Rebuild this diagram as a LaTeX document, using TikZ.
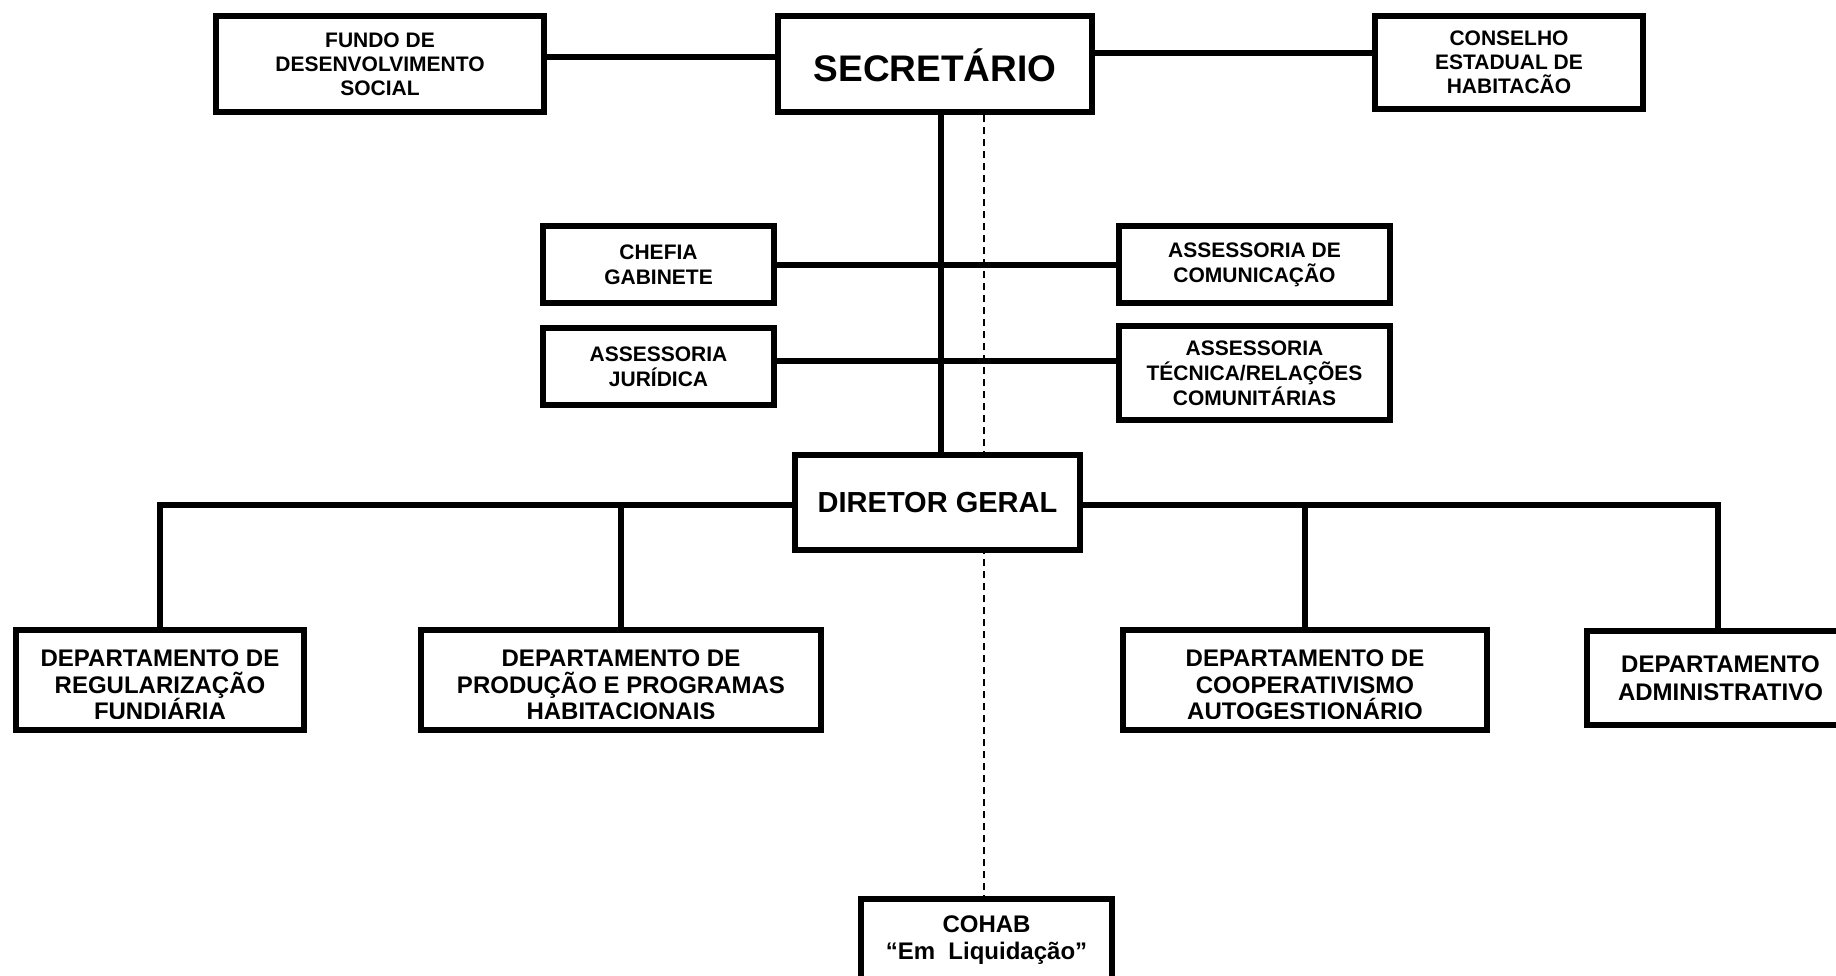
\documentclass[tikz,border=0pt]{standalone}
\usepackage{fontspec}
\setmainfont{Liberation Sans}
\lineskiplimit=-100pt
\pgfdeclarelayer{paper}
\pgfdeclarelayer{bg}
\pgfsetlayers{paper,bg,main}
\begin{document}
\begin{tikzpicture}[x=1pt,y=-1pt,
  box/.style={draw, line width=6pt, fill=white, inner sep=0pt, align=center},
  ln/.style={line width=6pt},
  dl/.style={line width=1.6pt, dash pattern=on 7pt off 5pt},
  small/.style={font=\fontsize{21}{24}\selectfont\bfseries},
  mid/.style={font=\fontsize{21}{25}\selectfont\bfseries},
  dept/.style={font=\fontsize{24}{26.5}\selectfont\bfseries, align=center, inner sep=0pt},
  depttwo/.style={font=\fontsize{24}{28}\selectfont\bfseries},
]
\useasboundingbox (0,0) rectangle (1836,975);
\begin{pgfonlayer}{paper}
  \fill[white] (0,0) rectangle (1836,975);
\end{pgfonlayer}
\clip (0,0) rectangle (1836,975);

% top row
\node[box, minimum width=328pt, minimum height=96pt, small] (fundo) at (380,64) {FUNDO DE\\DESENVOLVIMENTO\\SOCIAL};
\node[box, minimum width=314pt, minimum height=96pt, font=\fontsize{37}{40}\selectfont\bfseries, text height=34.5pt, text depth=0pt] (sec) at (935,64) {SECRETÁRIO};
\node[box, minimum width=268pt, minimum height=93pt, small] (cons) at (1509,62.5) {CONSELHO\\ESTADUAL DE\\HABITACÃO};

% staff
\node[box, minimum width=231pt, minimum height=77pt, mid] (chefia) at (658.5,264.5) {CHEFIA\\GABINETE};
\node[box, minimum width=271pt, minimum height=77pt, mid] (comun) at (1254.5,264.5) {ASSESSORIA DE\\COMUNICAÇÃO};
\node[box, minimum width=231pt, minimum height=77pt, mid] (jur) at (658.5,366.5) {ASSESSORIA\\JURÍDICA};
\node[box, minimum width=271pt, minimum height=94pt, mid] (tec) at (1254.5,373) {ASSESSORIA\\TÉCNICA/RELAÇÕES\\COMUNITÁRIAS};

% director
\node[box, minimum width=285pt, minimum height=95pt, font=\fontsize{29}{32}\selectfont\bfseries] (dir) at (937.5,502.5) {DIRETOR GERAL};

% departments
\node[box, minimum width=288pt, minimum height=100pt] (d1) at (160,680) {};
\node[box, minimum width=400pt, minimum height=100pt] (d2) at (621,680) {};
\node[box, minimum width=364pt, minimum height=100pt] (d3) at (1305,680) {};
\node[box, minimum width=267pt, minimum height=94pt, depttwo] (d4) at (1720.5,678) {DEPARTAMENTO\\ADMINISTRATIVO};
\begin{scope}
  \clip (d1.north west) rectangle ([yshift=15pt]d1.south east);
  \node[dept] (d1t) at (160,685) {DEPARTAMENTO DE\\REGULARIZAÇÃO\\FUNDIÁRIA};
\end{scope}
\begin{scope}
  \clip (d2.north west) rectangle ([yshift=15pt]d2.south east);
  \node[dept] (d2t) at (621,685) {DEPARTAMENTO DE\\PRODUÇÃO E PROGRAMAS\\HABITACIONAIS};
\end{scope}
\begin{scope}
  \clip (d3.north west) rectangle ([yshift=15pt]d3.south east);
  \node[dept] (d3t) at (1305,685) {DEPARTAMENTO DE\\COOPERATIVISMO\\AUTOGESTIONÁRIO};
\end{scope}

% COHAB
\node[box, minimum width=251pt, minimum height=82pt, font=\fontsize{24}{27}\selectfont\bfseries] (cohab) at (986.5,940) {COHAB\\“Em~ Liquidação”};

\coordinate (vx) at (941,0);
\coordinate (dx) at (984,0);
\coordinate (hy) at (0,505);

\begin{pgfonlayer}{bg}
  \draw[ln] ([yshift=7pt]fundo.east) coordinate (f1) -- (f1 -| sec.west);
  \draw[ln] ([yshift=11pt]sec.east) coordinate (s1) -- (s1 -| cons.west);
  \draw[ln] (sec.south -| vx) -- (dir.north -| vx);
  \draw[ln] (chefia.east) -- (comun.west);
  \draw[ln] ([yshift=5.5pt]jur.east) coordinate (j1) -- (j1 -| tec.west);
  \draw[ln] (d1.north) |- (dir.west |- hy);
  \draw[ln] (d2.north) -- (d2.north |- hy);
  \draw[ln] ([xshift=-2.5pt]d4.north) coordinate (d4s) |- (dir.east |- hy);
  \draw[ln] (d3.north) -- (d3.north |- hy);
  \draw[dl] (sec.south -| dx) -- (cohab.north -| dx);
\end{pgfonlayer}
\end{tikzpicture}
\end{document}
